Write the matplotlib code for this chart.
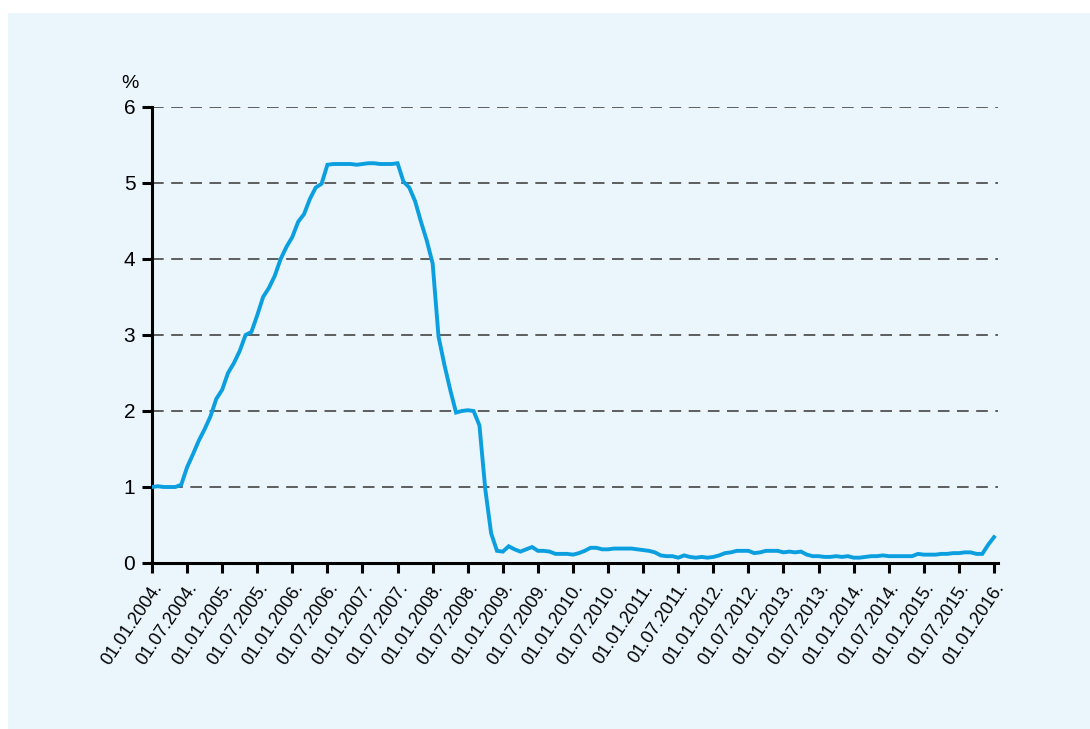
import matplotlib.pyplot as plt
from matplotlib.patches import Rectangle
import numpy as np

# monthly rate, %, Jan 2004 .. Jan 2016
rate_2004 = [1.00, 1.01, 1.00, 1.00, 1.00, 1.03, 1.26, 1.43, 1.61, 1.76, 1.93, 2.16]
rate_2005 = [2.28, 2.50, 2.63, 2.79, 3.00, 3.04, 3.26, 3.50, 3.62, 3.78, 4.00, 4.16]
rate_2006 = [4.29, 4.49, 4.59, 4.79, 4.94, 4.99, 5.24, 5.25, 5.25, 5.25, 5.25, 5.24]
rate_2007 = [5.25, 5.26, 5.26, 5.25, 5.25, 5.25, 5.26, 5.02, 4.94, 4.76, 4.49, 4.24]
rate_2008 = [3.94, 2.98, 2.61, 2.28, 1.98, 2.00, 2.01, 2.00, 1.81, 0.97, 0.39, 0.16]
rate_2009 = [0.15, 0.22, 0.18, 0.15, 0.18, 0.21, 0.16, 0.16, 0.15, 0.12, 0.12, 0.12]
rate_2010 = [0.11, 0.13, 0.16, 0.20, 0.20, 0.18, 0.18, 0.19, 0.19, 0.19, 0.19, 0.18]
rate_2011 = [0.17, 0.16, 0.14, 0.10, 0.09, 0.09, 0.07, 0.10, 0.08, 0.07, 0.08, 0.07]
rate_2012 = [0.08, 0.10, 0.13, 0.14, 0.16, 0.16, 0.16, 0.13, 0.14, 0.16, 0.16, 0.16]
rate_2013 = [0.14, 0.15, 0.14, 0.15, 0.11, 0.09, 0.09, 0.08, 0.08, 0.09, 0.08, 0.09]
rate_2014 = [0.07, 0.07, 0.08, 0.09, 0.09, 0.10, 0.09, 0.09, 0.09, 0.09, 0.09, 0.12]
rate_2015 = [0.11, 0.11, 0.11, 0.12, 0.12, 0.13, 0.13, 0.14, 0.14, 0.12, 0.12, 0.24]
rate_2016 = [0.34]

rates = (rate_2004 + rate_2005 + rate_2006 + rate_2007 + rate_2008 + rate_2009 +
         rate_2010 + rate_2011 + rate_2012 + rate_2013 + rate_2014 + rate_2015 + rate_2016)
years = list(range(2004, 2017))
tick_labels = []
for y in years:
    tick_labels.append(f"01.01.{y}.")
    if y < 2016:
        tick_labels.append(f"01.07.{y}.")

BG = "#eaf5fc"
LINE = "#0c9fdf"

plt.rcParams['font.family'] = ['Liberation Sans', 'DejaVu Sans']

fig = plt.figure(figsize=(10.9, 7.29), dpi=100)
fig.patch.set_facecolor("white")
fig.patches.append(Rectangle((8 / 1090, 0), 1 - 8 / 1090, 1 - 13 / 729,
                             transform=fig.transFigure, facecolor=BG,
                             edgecolor="none", zorder=-10))

ax = fig.add_axes([152 / 1090, 166 / 729, 845.5 / 1090, 456 / 729])
ax.patch.set_alpha(0)

x = 2004 + np.arange(len(rates)) / 12
ax.plot(x, rates, color=LINE, lw=2.8, solid_joinstyle='miter', zorder=3)

ax.set_xlim(2004, 2016.05)
ax.set_ylim(0, 6)
ax.set_yticks(range(0, 7))
for v in range(1, 7):
    ax.axhline(v, color="#444444", lw=1.2, ls=(0, (7, 4.5)), zorder=1)

ticks = 2004 + np.arange(len(tick_labels)) * 0.5
ax.set_xticks(ticks)
ax.set_xticklabels(tick_labels, rotation=56, ha='right', va='top',
                   rotation_mode='anchor', fontsize=13)
ax.tick_params(axis='x', length=7, width=2.2, pad=5)
ax.tick_params(axis='y', length=7, width=2.2, labelsize=15, pad=5)

for side in ['top', 'right']:
    ax.spines[side].set_visible(False)
for side in ['left', 'bottom']:
    ax.spines[side].set_linewidth(2.2)
ax.spines['bottom'].set_zorder(4)

fig.text(121 / 1090, 1 - 84 / 729, "%", fontsize=14, va='center', ha='left')

fig.savefig("out.png", dpi=100, facecolor=fig.get_facecolor())
